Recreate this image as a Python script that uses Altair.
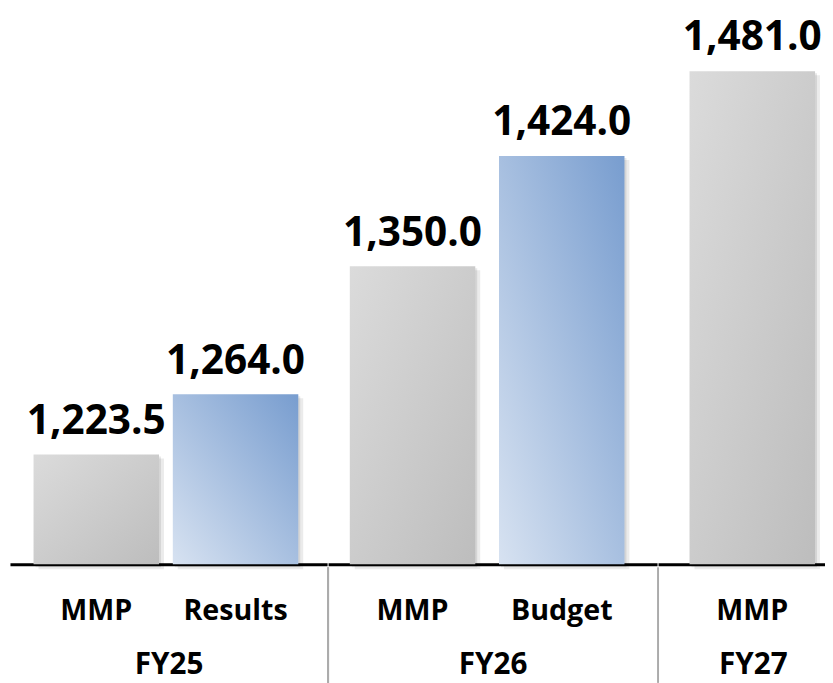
import altair as alt
import pandas as pd

groups = ["FY25", "FY25", "FY26", "FY26", "FY27"]
categories = ["MMP", "Results", "MMP", "Budget", "MMP"]
values = [1223.5, 1264.0, 1350.0, 1424.0, 1481.0]
kinds = ["plan", "actual", "plan", "actual", "plan"]

df = pd.DataFrame({"group": groups, "category": categories, "value": values, "kind": kinds})

H = 559
FONT = "Open Sans"
YDOM = [1149.8, 1520.7]

gray = alt.Gradient(
    gradient="linear",
    stops=[alt.GradientStop(color="#dbdbdb", offset=0), alt.GradientStop(color="#bdbdbd", offset=1)],
    x1=0, y1=0, x2=1, y2=1,
)
blue = alt.Gradient(
    gradient="linear",
    stops=[alt.GradientStop(color="#d7e2f1", offset=0), alt.GradientStop(color="#789dcf", offset=1)],
    x1=0, y1=1, x2=1, y2=0,
)


def panel(group, width, p_in, p_out, align, title_x=None, separator=False):
    d = df[df["group"] == group]
    axis_kw = dict(
        title=group, labelAngle=0, domainColor="black", domainWidth=3, ticks=False,
        labelFontSize=29, labelFontWeight="bold", labelFont=FONT, labelColor="black",
        labelPadding=56, labelBaseline="alphabetic",
        titleFontSize=30, titleFontWeight="bold", titleFont=FONT, titleColor="black",
        titleY=110, titleBaseline="alphabetic",
    )
    if title_x is not None:
        axis_kw["titleX"] = title_x
    xenc = alt.X("category:N", sort=None,
                 scale=alt.Scale(paddingInner=p_in, paddingOuter=p_out, align=align),
                 axis=alt.Axis(**axis_kw))
    yenc = alt.Y("value:Q", scale=alt.Scale(domain=YDOM, zero=False, nice=False), axis=None)
    base = alt.Chart(d).encode(x=xenc, y=yenc)
    barbase = alt.Chart(d).encode(x=xenc, y=yenc, y2=alt.datum(YDOM[0]))
    sh1 = barbase.mark_bar(color="#000000", opacity=0.09, xOffset=2, yOffset=2, y2Offset=3)
    sh2 = barbase.mark_bar(color="#000000", opacity=0.08, xOffset=5, yOffset=4, y2Offset=5)
    plan = barbase.transform_filter(alt.datum.kind == "plan").mark_bar(color=gray)
    actual = barbase.transform_filter(alt.datum.kind == "actual").mark_bar(color=blue)
    labels = base.mark_text(dy=-21, baseline="alphabetic", fontSize=41, fontWeight="bold",
                            font=FONT, color="black").encode(
        text=alt.Text("value:Q", format=",.1f"))
    layers = [sh1, sh2, plan, actual, labels]
    if separator:
        sep = alt.Chart(d).mark_rule(color="#ababab", strokeWidth=2).encode(
            x=alt.value(0), y=alt.value(H + 3), y2=alt.value(H + 120))
        layers.append(sep)
    return alt.layer(*layers).properties(width=width, height=H)


p1 = panel("FY25", 321, 0.099, 0.188, 0.45)
p2 = panel("FY26", 333, 0.159, 0.182, 0.4, separator=True)
p3 = panel("FY27", 169, 0.2, 0.132, 0.76, title_x=96, separator=True)

chart = alt.hconcat(p1, p2, p3, spacing=0).properties(
    padding={"left": 2, "top": 0, "right": 0, "bottom": 0},
).configure_view(strokeWidth=0)

chart.save("out.html", embed_options={"renderer": "svg", "actions": False})
